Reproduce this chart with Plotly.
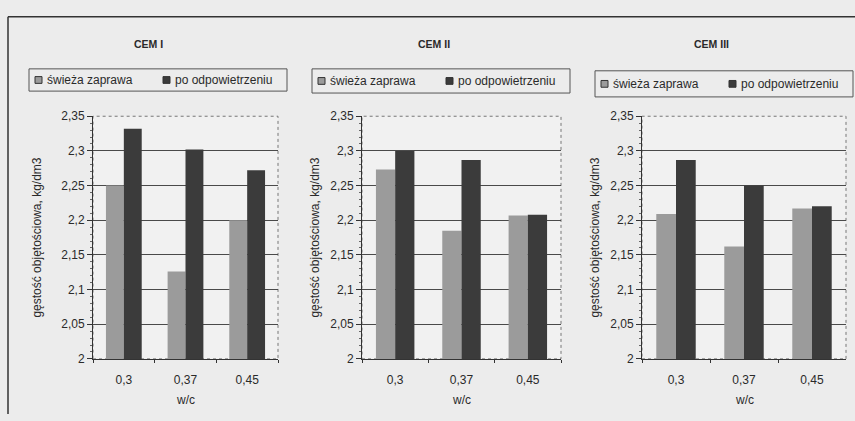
import plotly.graph_objects as go

# w/c ratios on the category axis
wc_labels = ["0,3", "0,37", "0,45"]

# bulk density, kg/dm3 — fresh mortar vs. after de-aeration
cem1_fresh = [2.25, 2.126, 2.20]
cem1_deaer = [2.332, 2.302, 2.272]
cem2_fresh = [2.273, 2.185, 2.207]
cem2_deaer = [2.30, 2.287, 2.208]
cem3_fresh = [2.209, 2.162, 2.217]
cem3_deaer = [2.287, 2.25, 2.22]

panel_titles = ["CEM I", "CEM II", "CEM III"]
series_names = ["świeża zaprawa", "po odpowietrzeniu"]
y_tickvals = [2.0, 2.05, 2.1, 2.15, 2.2, 2.25, 2.3, 2.35]
y_ticktext = ["2", "2,05", "2,1", "2,15", "2,2", "2,25", "2,3", "2,35"]
y_title = "gęstość objętościowa, kg/dm3"
x_title = "w/c"

W, H = 855, 421
FONT = "Liberation Sans, Arial, sans-serif"
INK = "#2a2a2a"
LIGHT_BAR = "#9b9b9b"
DARK_BAR = "#3b3b3b"

# layout of each panel in pixels
x_px = [(93, 278), (362, 561), (642, 846)]          # plot-area left/right
y_top_px, y_bot_px = 113, 364                         # plot-area top/bottom
legend_box = [(29, 287, 64, 87), (312, 570, 64, 89), (595, 853, 66, 93)]
title_x = [148, 434, 711]
ytitle_x = [37, 315, 595]

panels = [(cem1_fresh, cem1_deaer), (cem2_fresh, cem2_deaer), (cem3_fresh, cem3_deaer)]


def px(x):
    return x / W


def py(y):
    return 1 - y / H


fig = go.Figure()
layout = {}
annotations = []
shapes = []
ydom = [py(y_bot_px), py(y_top_px)]

for i, (fresh, deaer) in enumerate(panels):
    n = "" if i == 0 else str(i + 1)
    xa, ya = "x" + n, "y" + n
    for vals, name, col in ((fresh, series_names[0], LIGHT_BAR), (deaer, series_names[1], DARK_BAR)):
        fig.add_trace(go.Bar(x=wc_labels, y=vals, name=name,
                             marker=dict(color=col, line=dict(width=0)),
                             xaxis=xa, yaxis=ya, showlegend=False))
    x0, x1 = x_px[i]
    layout["xaxis" + n] = dict(
        domain=[px(x0), px(x1)], anchor=ya, type="category",
        showline=True, linecolor="#333", linewidth=1,
        ticks="outside", tickson="boundaries", ticklen=3, tickcolor="#333",
        ticklabelstandoff=10,
        tickfont=dict(family=FONT, size=12, color=INK),
        showgrid=False,
    )
    layout["yaxis" + n] = dict(
        domain=ydom, anchor=xa, range=[2, 2.35],
        tickvals=y_tickvals, ticktext=y_ticktext,
        showline=True, linecolor="#333", linewidth=1,
        ticks="outside", ticklen=5, tickcolor="#333",
        minor=dict(dtick=0.01, ticks="outside", ticklen=2, tickcolor="#666", showgrid=False),
        tickfont=dict(family=FONT, size=12, color=INK),
        showgrid=True, gridcolor="#4a4a4a", gridwidth=1,
        zeroline=False,
    )

    # panel title
    annotations.append(dict(text="<b>" + panel_titles[i] + "</b>", x=px(title_x[i]), y=py(38),
                            xref="paper", yref="paper", xanchor="center", yanchor="middle",
                            showarrow=False, font=dict(family=FONT, size=10.5, color=INK)))
    # axis titles
    annotations.append(dict(text=y_title, x=px(ytitle_x[i]), y=py((y_top_px + y_bot_px) / 2),
                            xref="paper", yref="paper", xanchor="center", yanchor="middle",
                            textangle=-90, showarrow=False,
                            font=dict(family=FONT, size=12, color=INK)))
    annotations.append(dict(text=x_title, x=px((x0 + x1) / 2), y=py(407),
                            xref="paper", yref="paper", xanchor="center", yanchor="middle",
                            showarrow=False, font=dict(family=FONT, size=12, color=INK)))

    # faint frame around the plot area
    shapes.append(dict(type="rect", xref="paper", yref="paper",
                       x0=px(x0), x1=px(x1), y0=ydom[0], y1=ydom[1],
                       line=dict(color="#777", width=1, dash="dot"), layer="below"))

    # legend: bordered box with two swatches
    bl, br, bt, bb = legend_box[i]
    shapes.append(dict(type="rect", xref="paper", yref="paper",
                       x0=px(bl), x1=px(br), y0=py(bb), y1=py(bt),
                       line=dict(color="#555", width=1), fillcolor="rgba(0,0,0,0)"))
    ym = (bt + bb) / 2
    for k, (off, col) in enumerate(((6, LIGHT_BAR), (134, DARK_BAR))):
        sx = bl + off
        shapes.append(dict(type="rect", xref="paper", yref="paper",
                           x0=px(sx), x1=px(sx + 7), y0=py(ym + 3.5), y1=py(ym - 3.5),
                           line=dict(color="#333", width=1), fillcolor=col))
        annotations.append(dict(text=series_names[k], x=px(sx + 10), y=py(ym),
                                xref="paper", yref="paper", xanchor="left", yanchor="middle",
                                showarrow=False, font=dict(family=FONT, size=12, color=INK)))

# outer frame of the figure
shapes.append(dict(type="line", xref="paper", yref="paper", x0=px(8), x1=px(8), y0=0, y1=py(10),
                   line=dict(color="#333", width=1.5)))
shapes.append(dict(type="line", xref="paper", yref="paper", x0=px(8), x1=1, y0=py(10), y1=py(10),
                   line=dict(color="#333", width=1.5)))

fig.update_layout(
    width=W, height=H, margin=dict(l=0, r=0, t=0, b=0),
    paper_bgcolor="#ececec", plot_bgcolor="#f1f1f1",
    barmode="group", bargap=0.42, bargroupgap=0,
    annotations=annotations, shapes=shapes,
    font=dict(family=FONT, color=INK),
    **layout,
)

fig.write_html("out.html")
